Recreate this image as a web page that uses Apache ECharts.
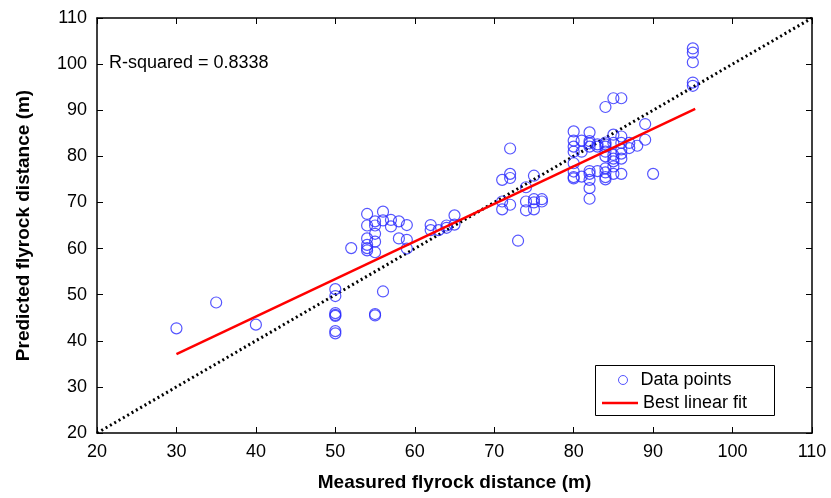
<!DOCTYPE html>
<html><head><meta charset="utf-8">
<script src="https://cdn.jsdelivr.net/npm/echarts@6/dist/echarts.min.js"></script>
<style>html,body{margin:0;padding:0;background:#fff}#c{width:831px;height:498px}</style>
</head><body><div id="c"></div>
<script>
// Measured (x) and predicted (y) flyrock distances
const measured = [30,35,40,
 50,50,50,50,50,50,50,
 52,
 54,54,54,54,54,54,
 55,55,55,55,55,55,55,
 56,56,56,
 57,57,58,58,59,59,59,
 62,62,63,64,64,65,65,
 71,71,71,
 72,72,72,72,
 73,
 74,74,74,
 75,75,75,75,
 76,76,
 80,80,80,80,80,80,80,80,
 81,81,81,
 82,82,82,82,82,82,82,82,82,
 83,83,83,
 84,84,84,84,84,84,84,84,84,84,
 85,85,85,85,85,85,85,85,
 86,86,86,86,86,86,86,
 87,87,88,89,89,90,
 95,95,95,95,95];
const predicted = [42.7,48.3,43.5,
 51.2,49.7,46.0,45.6,45.4,42.1,41.6,
 60.1,
 67.5,65.0,62.2,60.8,60.1,59.6,
 65.9,65.0,63.2,61.5,59.2,45.5,45.8,
 68.0,66.1,50.7,
 66.2,64.8,65.9,62.2,65.1,61.9,60.0,
 65.1,64.0,64.0,65.0,64.5,67.2,65.2,
 74.9,70.2,68.5,
 81.7,76.2,75.3,69.5,
 61.7,
 73.3,70.2,68.3,
 75.8,70.7,68.5,70.0,
 70.7,70.2,
 85.4,83.4,82.1,81.0,78.5,76.7,75.5,75.2,
 83.4,75.6,81.0,
 85.2,83.3,82.1,76.8,76.2,74.9,73.1,70.8,82.8,
 82.1,76.8,82.6,
 90.7,82.1,81.0,80.0,77.4,76.5,75.5,75.0,83.0,82.6,
 92.6,84.7,82.9,80.3,78.9,77.8,76.2,79.5,
 92.6,82.9,81.5,80.6,79.5,76.2,84.3,
 82.9,81.8,82.3,87.0,83.6,76.2,
 103.4,102.5,100.4,96.0,95.3];
const fitX = [30, 95.3];
const fitY = [37.1, 90.3];
const diagX = [20, 110];
const diagY = [20, 110];
const rSquaredText = 'R-squared = 0.8338';

const FONT = '"Liberation Sans",Arial,sans-serif';
const chart = echarts.init(document.getElementById('c'));
const gridL = 97, gridR = 19, gridT = 18, gridB = 65;
const axisCommon = {
  min: 20, max: 110, interval: 10,
  axisLine: {show: true, onZero: false, lineStyle: {color: '#000', width: 1.5}},
  axisTick: {show: true, inside: true, length: 6, lineStyle: {color: '#000', width: 1}},
  splitLine: {show: false}
};
chart.setOption({
  animation: false,
  grid: {left: gridL, right: gridR, top: gridT, bottom: gridB, show: false},
  xAxis: [
    Object.assign({type: 'value', position: 'bottom',
      name: 'Measured flyrock distance (m)', nameLocation: 'middle', nameGap: 40,
      nameTextStyle: {fontFamily: FONT, fontSize: 19, fontWeight: 'bold', color: '#000'},
      axisLabel: {fontFamily: FONT, fontSize: 18, color: '#000', margin: 10}}, axisCommon),
    Object.assign({type: 'value', position: 'top', axisLabel: {show: false}}, axisCommon)
  ],
  yAxis: [
    Object.assign({type: 'value', position: 'left',
      name: 'Predicted flyrock distance (m)', nameLocation: 'middle', nameGap: 64, nameRotate: 90,
      nameTextStyle: {fontFamily: FONT, fontSize: 19, fontWeight: 'bold', color: '#000'},
      axisLabel: {fontFamily: FONT, fontSize: 18, color: '#000', margin: 10}}, axisCommon),
    Object.assign({type: 'value', position: 'right', axisLabel: {show: false}}, axisCommon)
  ],
  legend: [
    {data: [{name: 'Data points', icon: 'circle',
             itemStyle: {color: 'rgba(0,0,0,0)', borderColor: '#2b2bff', borderWidth: 1}}],
     orient: 'vertical', left: 613, top: 366, itemWidth: 9, itemHeight: 9, itemGap: 4,
     textStyle: {fontFamily: FONT, fontSize: 18, color: '#000', padding: [0, 0, 0, 8]}},
    {data: [{name: 'Best linear fit', icon: 'rect'}], orient: 'vertical',
     left: 597, top: 389, itemWidth: 36, itemHeight: 2.5,
     textStyle: {fontFamily: FONT, fontSize: 18, color: '#000', padding: [0, 0, 0, 0]}}
  ],
  graphic: [
    {type: 'rect', left: 593, top: 363, shape: {width: 179, height: 50},
     style: {fill: 'none', stroke: '#000', lineWidth: 1}, z: 10},
    {type: 'text', left: 109, top: 54, style: {text: rSquaredText, fontFamily: FONT, fontSize: 18, fill: '#000'}}
  ],
  series: [
    {name: 'Diagonal', type: 'line', data: diagX.map((x, i) => [x, diagY[i]]),
     symbol: 'none', lineStyle: {color: '#000', width: 3, type: [2, 3]}, z: 2},
    {name: 'Data points', type: 'scatter', data: measured.map((x, i) => [x, predicted[i]]),
     symbol: 'circle', symbolSize: 11,
     itemStyle: {color: 'rgba(0,0,0,0)', borderColor: '#2b2bff', borderWidth: 1.2}, z: 3},
    {name: 'Best linear fit', type: 'line', data: fitX.map((x, i) => [x, fitY[i]]),
     symbol: 'none', lineStyle: {color: '#ff0000', width: 2.5}, itemStyle: {color: '#ff0000'}, z: 4}
  ]
});
</script></body></html>
